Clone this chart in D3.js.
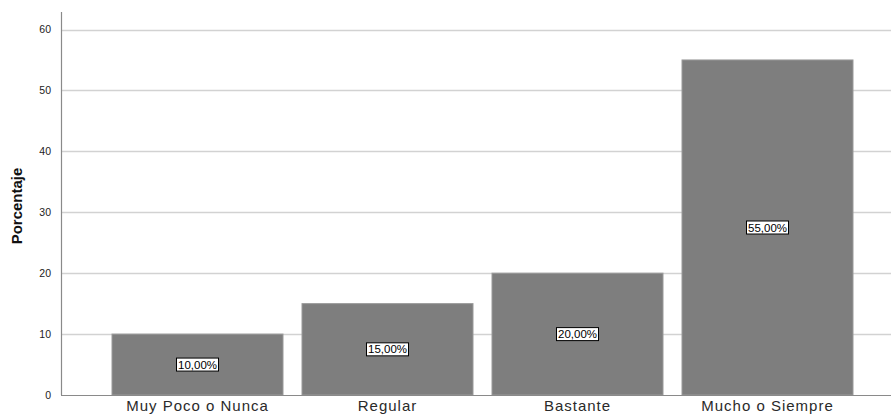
<!DOCTYPE html>
<html><head><meta charset="utf-8">
<script src="https://cdn.jsdelivr.net/npm/d3@7"></script>
<style>body{margin:0;background:#fff}</style>
</head><body>
<svg id="c" width="891" height="419"></svg>
<script>
const categories = ["Muy Poco o Nunca", "Regular", "Bastante", "Mucho o Siempre"];
const values = [10, 15, 20, 55];
const valueLabels = ["10,00%", "15,00%", "20,00%", "55,00%"];
const yTicks = [0, 10, 20, 30, 40, 50, 60];
const yTitle = "Porcentaje";

(function () {
const svg = d3.select("#c");
const mLeft = 61, mRight = 891, mTop = 12, base = 395;
const y = d3.scaleLinear().domain([0, 60]).range([base, 29.5]);
const x = d3.scaleBand().domain(categories).range([102.5, 862.5]).paddingInner(0.1).paddingOuter(0.05);

// gridlines
svg.append("g").selectAll("line").data(yTicks.filter(d => d > 0)).join("line")
  .attr("x1", mLeft).attr("x2", mRight)
  .attr("y1", d => Math.round(y(d)) + 0.5).attr("y2", d => Math.round(y(d)) + 0.5)
  .attr("stroke", "#d2d2d2").attr("stroke-width", 1.5);

// y axis
const yAxis = d3.axisLeft(y).tickValues(yTicks).tickSize(0).tickPadding(10);
const gy = svg.append("g").attr("transform", `translate(${mLeft},0)`).call(yAxis);
gy.select(".domain").remove();
gy.selectAll("text").attr("font-family", "Arial, 'Liberation Sans', sans-serif").attr("font-size", 10.5).attr("fill", "#222");
svg.append("line").attr("x1", mLeft + 0.5).attr("x2", mLeft + 0.5).attr("y1", mTop).attr("y2", base)
  .attr("stroke", "#8a8a8a").attr("stroke-width", 1.2);

// bars
svg.append("g").selectAll("rect").data(values).join("rect")
  .attr("x", (d, i) => x(categories[i]))
  .attr("width", x.bandwidth())
  .attr("y", d => y(d))
  .attr("height", d => base - y(d))
  .attr("fill", "#7e7e7e")
  .attr("stroke", "#9a9a9a").attr("stroke-width", 1);

// x axis baseline
svg.append("line").attr("x1", mLeft).attr("x2", mRight).attr("y1", base + 0.5).attr("y2", base + 0.5)
  .attr("stroke", "#8a8a8a").attr("stroke-width", 1.2);

// x tick labels
const xAxis = d3.axisBottom(x).tickSize(0).tickPadding(5);
const gx = svg.append("g").attr("transform", `translate(0,${base})`).call(xAxis);
gx.select(".domain").remove();
gx.selectAll("text").attr("font-family", "Arial, 'Liberation Sans', sans-serif").attr("font-size", 15)
  .attr("letter-spacing", "1px").attr("fill", "#2a2a2a");

// value labels
const lg = svg.append("g").selectAll("g").data(values).join("g")
  .attr("transform", (d, i) => `translate(${x(categories[i]) + x.bandwidth() / 2},${y(d / 2)})`);
lg.append("text").attr("text-anchor", "middle").attr("dy", "0.35em")
  .attr("font-family", "Arial, 'Liberation Sans', sans-serif").attr("font-size", 11.5).attr("fill", "#000")
  .text((d, i) => valueLabels[i]);
lg.each(function () {
  const g = d3.select(this);
  const b = g.select("text").node().getBBox();
  g.insert("rect", "text").attr("x", b.x - 1.5).attr("y", b.y - 0.5).attr("width", b.width + 3).attr("height", b.height + 1)
    .attr("fill", "#fff").attr("stroke", "#000").attr("stroke-width", 1);
});

// y title
svg.append("text").attr("transform", `translate(22,206) rotate(-90)`)
  .attr("text-anchor", "middle").attr("font-family", "'Liberation Sans Narrow', 'Arial Narrow', Arial, sans-serif")
  .attr("font-size", 15).attr("font-weight", "bold").attr("fill", "#111").text(yTitle);
})();
</script>
</body></html>
